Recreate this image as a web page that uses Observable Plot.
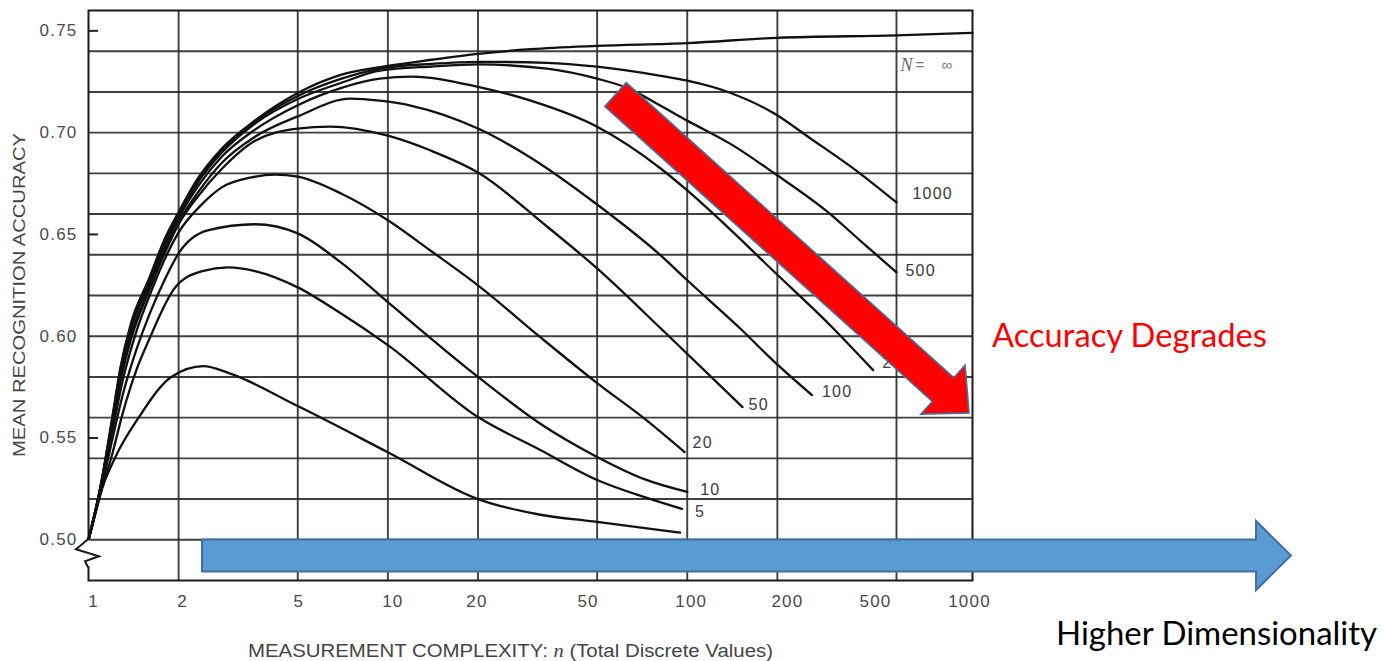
<!DOCTYPE html>
<html>
<head>
<meta charset="utf-8">
<script src="https://cdn.jsdelivr.net/npm/d3@7"></script>
<script src="https://cdn.jsdelivr.net/npm/@observablehq/plot@0.6"></script>
<style>
  html, body { margin: 0; padding: 0; background: #fff; overflow: hidden; }
  #chart svg { display: block; }
</style>
</head>
<body>
<div id="chart"></div>
<script>
// ---------------- data ----------------
const seriesNames = ["2", "5", "10", "20", "50", "100", "200", "500", "1000", "∞"];

// [n (measurement complexity), mean recognition accuracy]
const m2 = [[1,.5],[1.08,.52],[1.23,.5407],[1.47,.56],[1.89,.58],[2.42,.5853],[2.93,.582],[5,.5657],[10,.543],[20,.52],[32.3,.5123],[48.5,.509],[94.7,.5035]];
const m5 = [[1,.5],[1.1,.523],[1.2,.542],[1.3,.562],[1.45,.584],[1.59,.598],[1.95,.624],[2.4,.632],[2.93,.6338],[3.6,.632],[5,.624],[7,.611],[10,.5956],[20,.5603],[32.4,.544],[50,.5294],[73.3,.5206],[96,.5152]];
const m10 = [[1,.5],[1.1,.524],[1.2,.549],[1.3,.571],[1.45,.594],[1.6,.611],[1.8,.628],[2,.6407],[2.5,.652],[3.6,.655],[5,.6505],[7,.636],[10,.6167],[20,.58],[32.3,.557],[50,.5407],[73,.5294],[100,.5235]];
const m20 = [[1,.5],[1.1,.525],[1.2,.553],[1.3,.578],[1.45,.603],[1.6,.62],[1.8,.638],[2,.651],[2.4,.665],[2.78,.673],[3.5,.678],[4.2,.6794],[5,.6784],[7,.67],[10,.657],[13.9,.642],[20,.625],[32.3,.5995],[50,.577],[73,.5588],[98,.5431]];
const m50 = [[1,.5],[1.1,.526],[1.2,.555],[1.28,.578],[1.39,.599],[1.59,.622],[1.8,.641],[2,.655],[2.33,.669],[2.78,.682],[3.6,.696],[5,.702],[6.4,.703],[10,.6985],[13.9,.6912],[20,.6804],[34,.6539],[50,.6333],[81.5,.6039],[153,.5652]];
const m100 = [[1,.5],[1.1,.526],[1.2,.556],[1.28,.58],[1.39,.601],[1.59,.623],[1.8,.642],[2,.656],[2.33,.671],[2.78,.685],[3.6,.698],[5,.708],[7.5,.7167],[9.4,.7157],[12,.7132],[20,.702],[30,.6877],[50,.6647],[81.5,.6397],[100,.6275],[150,.6039],[196,.5873],[261,.5711]];
const m200 = [[1,.5],[1.1,.526],[1.2,.557],[1.28,.582],[1.39,.604],[1.59,.625],[1.8,.644],[2,.658],[2.33,.674],[2.78,.688],[3.6,.7015],[5,.7135],[7,.722],[9.4,.7265],[12,.7275],[20,.7225],[30,.7157],[50,.7029],[81.5,.6824],[100,.6716],[139,.6525],[196,.6314],[300,.6054],[418,.5833]];
const m500 = [[1,.5],[1.1,.527],[1.2,.558],[1.28,.583],[1.39,.605],[1.59,.626],[1.8,.646],[2,.659],[2.33,.676],[2.78,.69],[3.6,.7045],[5,.7165],[7,.7245],[9.4,.7305],[14,.7325],[20,.7335],[34,.7314],[50,.7265],[62.7,.7221],[81.5,.7132],[100,.7059],[139,.6946],[196,.6799],[293,.6613],[378,.647],[500,.6314]];
const m1000 = [[1,.5],[1.1,.527],[1.2,.559],[1.28,.584],[1.39,.606],[1.59,.627],[1.8,.647],[2,.66],[2.33,.677],[2.78,.691],[3.6,.7055],[5,.718],[7,.7265],[9.4,.7315],[14,.7338],[20,.7348],[34,.7343],[50,.7324],[81.5,.7279],[100,.7255],[139,.7196],[196,.7093],[256,.6975],[378,.6799],[500,.6657]];
const mInf = [[1,.5],[1.1,.527],[1.2,.56],[1.28,.585],[1.39,.607],[1.59,.628],[1.8,.648],[2,.661],[2.33,.678],[2.78,.692],[3.6,.706],[5,.7195],[7,.7285],[10,.7328],[14,.7358],[20,.7387],[30,.741],[50,.7426],[100,.744],[200,.7466],[500,.7478],[1000,.749]];

const seriesData = [m2, m5, m10, m20, m50, m100, m200, m500, m1000, mInf];

const xTicks = [1, 2, 5, 10, 20, 50, 100, 200, 500, 1000];
const xGrid = [2, 5, 10, 20, 50, 100, 200, 500];
const yTicks = [0.50, 0.55, 0.60, 0.65, 0.70, 0.75];
const yGrid = [0.50, 0.52, 0.54, 0.56, 0.58, 0.60, 0.62, 0.64, 0.66, 0.68, 0.70, 0.72, 0.74];
const yTickMarks = [0.55, 0.65, 0.75];

const xTitle = ["MEASUREMENT COMPLEXITY: ", "n", " (Total Discrete Values)"];
const yTitle = "MEAN RECOGNITION ACCURACY";
const annotRed = "Accuracy Degrades";
const annotBlue = "Higher Dimensionality";

// ---------------- styling (not data) ----------------
const xTickDx = [5, 4, 1, 5, -1, -9, 4, 10, -21, -3];
const labelOffsets = {"5": [13, 3], "10": [13, -2], "20": [8, -9], "50": [6, -2], "100": [10, -3], "200": [9, -7], "500": [9, -1], "1000": [16, -9]};
const gridColor = "#2a2a2a";
const textGray = "#4a4a4a";

const rows = seriesNames.flatMap((N, i) => seriesData[i].map(([n, acc]) => ({N, n, acc})));

const endLabelMarks = seriesNames.filter(N => labelOffsets[N]).map(N => {
  const d = seriesData[seriesNames.indexOf(N)];
  const last = d[d.length - 1];
  const [dx, dy] = labelOffsets[N];
  return Plot.text([last], {x: p => p[0], y: p => p[1], text: () => N, textAnchor: "start",
    dx, dy, fill: "#3a3a3a", fontSize: 16});
});

const xTickMarks = xTicks.map((t, i) => Plot.text([t], {x: d => d, frameAnchor: "bottom", dy: 26, dx: xTickDx[i],
  text: d => String(d), textAnchor: "middle", fill: textGray, fontSize: 17}));

const infLast = mInf[mInf.length - 1];

const plot = Plot.plot({
  width: 1383,
  height: 661,
  marginLeft: 88,
  marginRight: 411,
  marginTop: 10,
  marginBottom: 81,
  style: {fontFamily: "'Liberation Sans', Arial, sans-serif", fontSize: "17px", color: textGray, background: "#fff", overflow: "visible", letterSpacing: "1.2px"},
  x: {type: "log", domain: [1, 500, 1000], range: [88, 896, 972], axis: null},
  y: {domain: [0.48, 0.76], range: [580, 10], axis: null},
  marks: [
    Plot.ruleX(xGrid, {stroke: gridColor, strokeWidth: 1.9, strokeOpacity: 0.9}),
    Plot.ruleY(yGrid, {stroke: gridColor, strokeWidth: 1.9, strokeOpacity: 0.9}),
    Plot.ruleY(yTickMarks, {x1: 1, x2: 1.08, stroke: "#222", strokeWidth: 2}),
    Plot.frame({stroke: "#1a1a1a", strokeWidth: 2}),
    Plot.line(rows, {x: "n", y: "acc", z: "N", curve: "monotone-x", stroke: "#111", strokeWidth: 2.3}),
    ...endLabelMarks,
    Plot.text([infLast], {x: p => p[0], y: p => p[1], text: () => "N", dx: -72, dy: 32, textAnchor: "start",
      fontFamily: "'Liberation Serif', serif", fontStyle: "italic", fontSize: 18, fill: "#666"}),
    Plot.text([infLast], {x: p => p[0], y: p => p[1], text: () => "=   ∞", dx: -57, dy: 32, textAnchor: "start",
      fontSize: 15, fill: "#777"}),
    Plot.text(yTicks, {y: d => d, frameAnchor: "left", dx: -11, textAnchor: "end", text: d => d.toFixed(2), fill: textGray, fontSize: 17}),
    ...xTickMarks
  ]
});

document.getElementById("chart").appendChild(plot);

// ---------------- annotations ----------------
const svg = d3.select(plot);
const xs = plot.scale("x"), ys = plot.scale("y");
const x0 = xs.apply(1), y0 = ys.apply(0.5);

// axis break (zig-zag) below 0.50 on the left frame edge
svg.append("line").attr("x1", x0).attr("x2", x0).attr("y1", y0 + 1).attr("y2", y0 + 27)
  .attr("stroke", "#fff").attr("stroke-width", 4);
svg.append("path")
  .attr("d", `M${x0},${y0} L${x0 - 12},${y0 + 10} L${x0 + 11},${y0 + 17} L${x0 - 3},${y0 + 22} L${x0},${y0 + 28}`)
  .attr("fill", "none").attr("stroke", "#1a1a1a").attr("stroke-width", 2);

// axis titles
const xt = svg.append("text").attr("x", 248).attr("y", 657).attr("text-anchor", "start")
  .attr("fill", "#444").attr("font-size", 18).attr("font-family", "'Liberation Sans', Arial, sans-serif")
  .attr("textLength", 525).attr("lengthAdjust", "spacingAndGlyphs").style("letter-spacing", "0px");
xt.append("tspan").text(xTitle[0]);
xt.append("tspan").attr("font-family", "'Liberation Serif', serif").attr("font-style", "italic").text(xTitle[1]);
xt.append("tspan").text(xTitle[2]);

svg.append("text").attr("transform", "translate(25,295) rotate(-90)").attr("text-anchor", "middle")
  .attr("fill", "#444").attr("font-size", 17).attr("font-family", "'Liberation Sans', Arial, sans-serif")
  .attr("textLength", 324).attr("lengthAdjust", "spacingAndGlyphs").style("letter-spacing", "0px")
  .text(yTitle);

// block arrows
function blockArrow(tail, tip, bodyHalf, headHalf, headLen) {
  const dx = tip[0] - tail[0], dy = tip[1] - tail[1];
  const L = Math.hypot(dx, dy);
  const u = [dx / L, dy / L], p = [-u[1], u[0]];
  const P = (a, b) => [tail[0] + u[0] * a + p[0] * b, tail[1] + u[1] * a + p[1] * b];
  const hb = L - headLen;
  return [P(0, -bodyHalf), P(hb, -bodyHalf), P(hb, -headHalf), P(L, 0), P(hb, headHalf), P(hb, bodyHalf), P(0, bodyHalf)];
}
const redPts = blockArrow([615.5, 94.5], [969, 413], 16, 33, 35);
svg.append("polygon").attr("points", redPts.map(d => d.join(",")).join(" "))
  .attr("fill", "#FF0000").attr("stroke", "#41719C").attr("stroke-width", 1.6).attr("stroke-linejoin", "miter");

const bluePts = blockArrow([202, 555.5], [1291, 555.5], 16, 34.5, 35);
svg.append("polygon").attr("points", bluePts.map(d => d.join(",")).join(" "))
  .attr("fill", "#5B9BD5").attr("stroke", "#41719C").attr("stroke-width", 2);

svg.append("text").attr("x", 992).attr("y", 347).attr("text-anchor", "start").attr("fill", "#FF0000")
  .attr("font-family", "Lato, 'Open Sans', sans-serif").attr("font-size", 32)
  .attr("textLength", 275).attr("lengthAdjust", "spacingAndGlyphs").style("letter-spacing", "0px")
  .text(annotRed);

svg.append("text").attr("x", 1056).attr("y", 645).attr("text-anchor", "start").attr("fill", "#000")
  .attr("font-family", "Lato, 'Open Sans', sans-serif").attr("font-size", 32)
  .attr("textLength", 321).attr("lengthAdjust", "spacingAndGlyphs").style("letter-spacing", "0px")
  .text(annotBlue);
</script>
</body>
</html>
